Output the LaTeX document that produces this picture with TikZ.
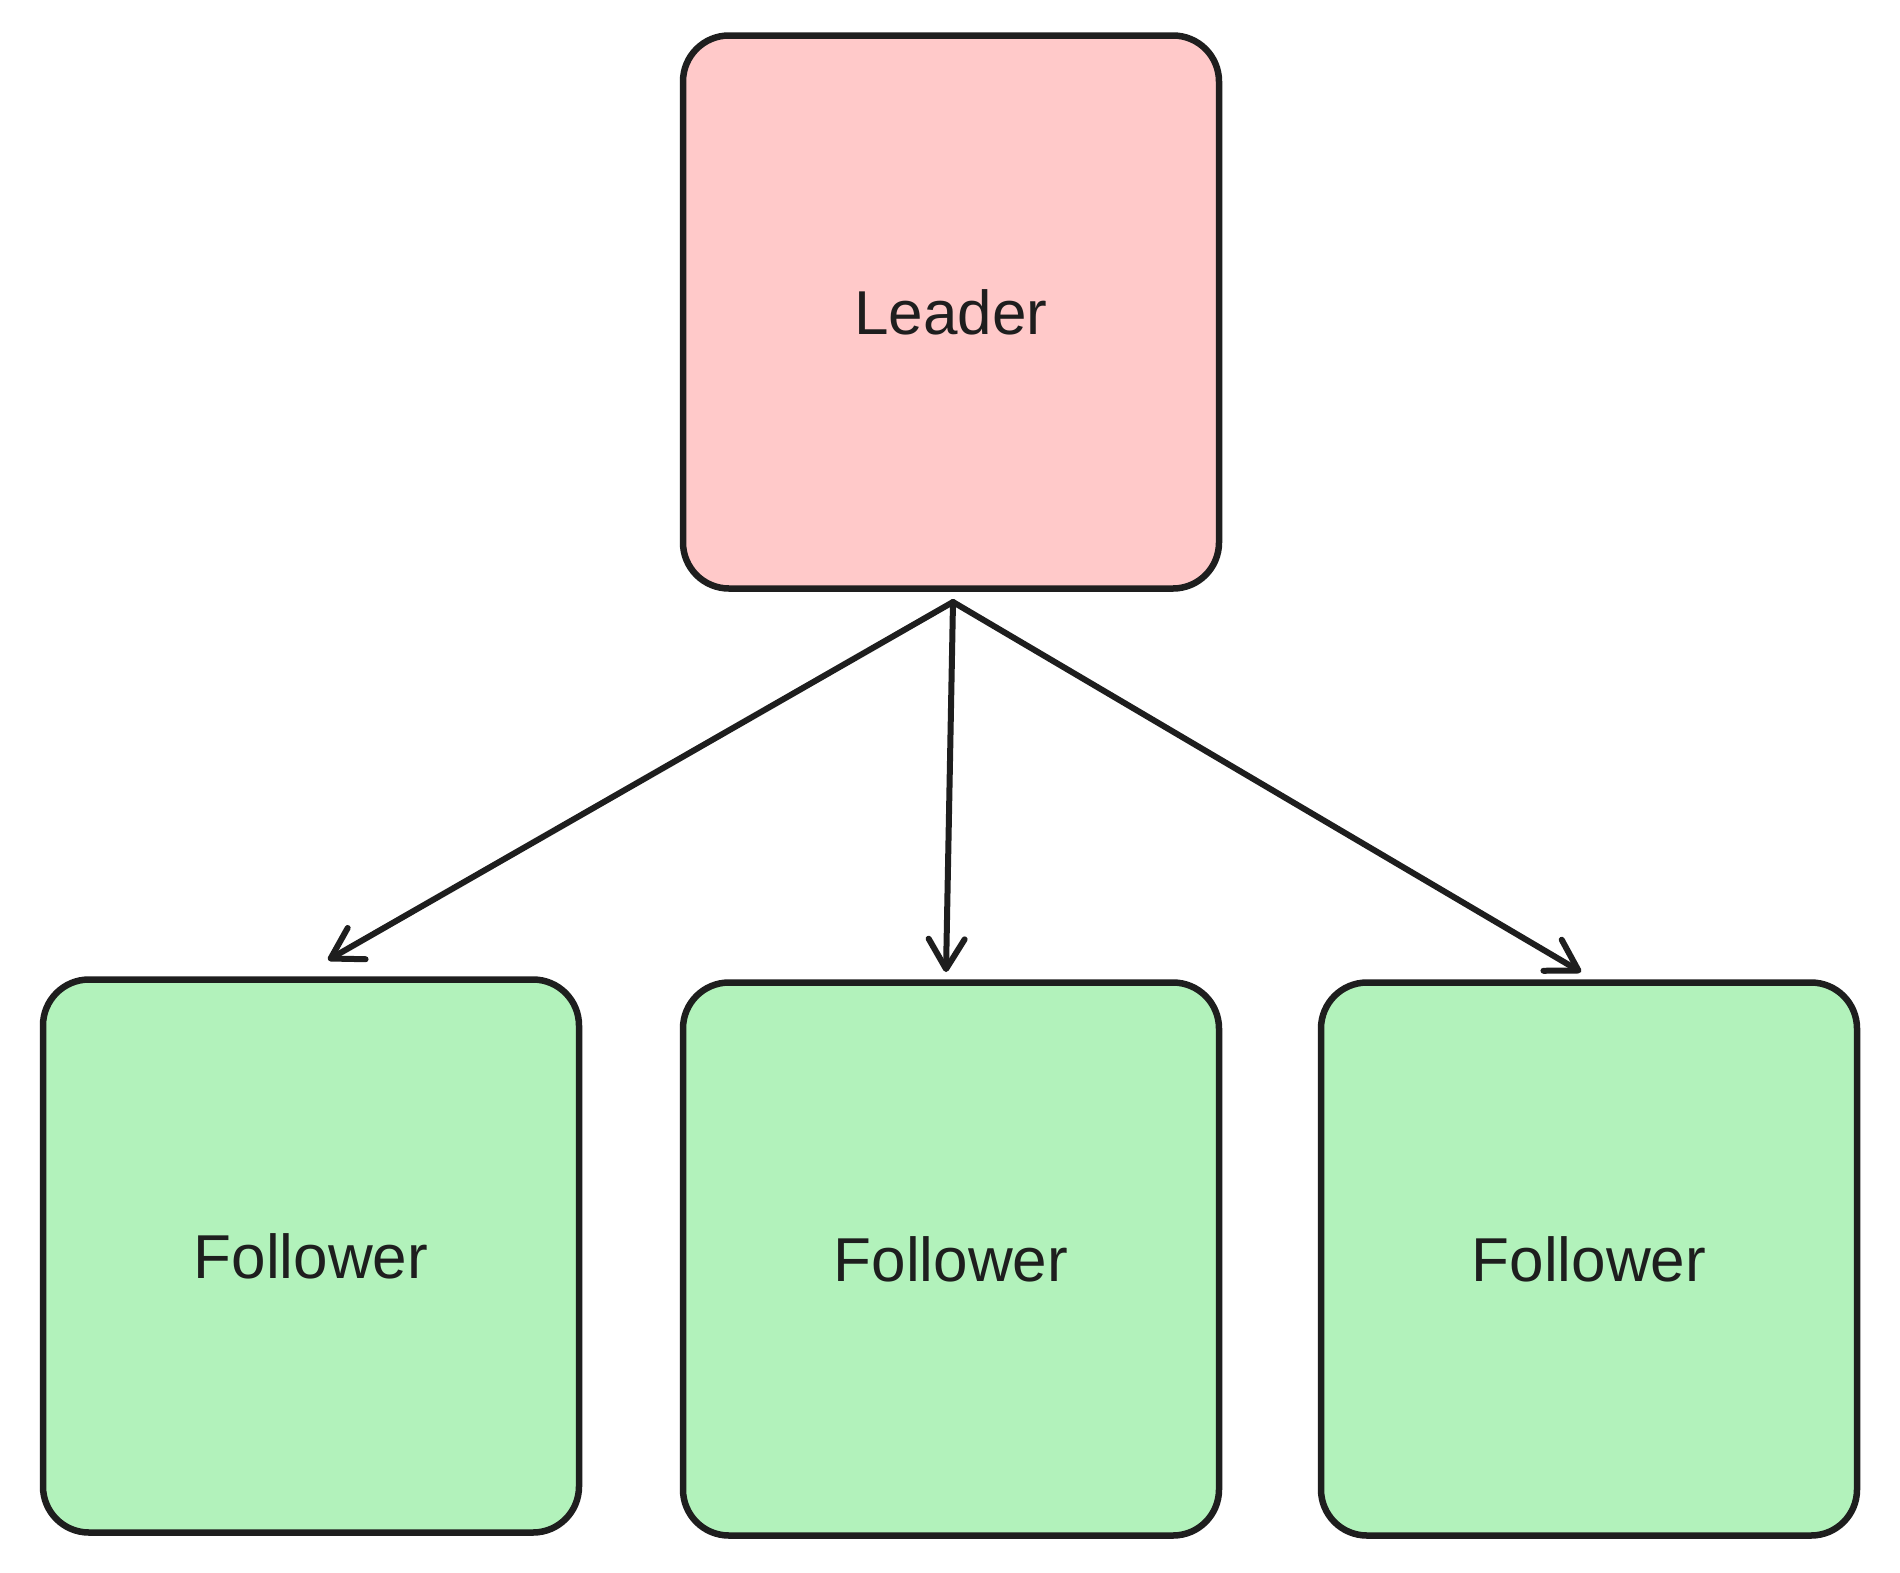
\documentclass[tikz,border=0pt]{standalone}
\usepackage{fontspec}
\setmainfont{Liberation Sans}
\usetikzlibrary{arrows.meta}
\definecolor{pinkfill}{HTML}{FFC9C9}
\definecolor{greenfill}{HTML}{B2F2BB}
\definecolor{ink}{HTML}{1E1E1E}
\tikzset{
  boxstyle/.style={draw=ink, line width=6.5pt, rounded corners=46pt,
    minimum width=536pt, minimum height=553pt, inner sep=0pt,
    font=\fontsize{62}{70}\selectfont, text=ink},
  leaderbox/.style={boxstyle, fill=pinkfill},
  followerbox/.style={boxstyle, fill=greenfill},
  linkarrow/.style={draw=ink, line width=6pt, line cap=round,
    -{Straight Barb[length=30pt, width=36pt, line width=6pt, round]}}
}
\begin{document}
\begin{tikzpicture}[x=1pt, y=-1pt]
  \useasboundingbox (0,0) rectangle (1900,1572);
  \fill[white] (0,0) rectangle (1900,1572);
  \node[leaderbox] (leader) at (951,312) {Leader};
  \node[followerbox] (f1) at (311,1256) {Follower};
  \node[followerbox] (f2) at (951,1259) {Follower};
  \node[followerbox] (f3) at (1589,1259) {Follower};
  \coordinate (src) at (953,602);
  \coordinate (e1) at (328,960);
  \coordinate (e2) at (946,972);
  \coordinate (e3) at (1581,972);
  \draw[linkarrow] (src) -- (e1);
  \draw[linkarrow] (src) -- (e2);
  \draw[linkarrow] (src) -- (e3);
\end{tikzpicture}
\end{document}
